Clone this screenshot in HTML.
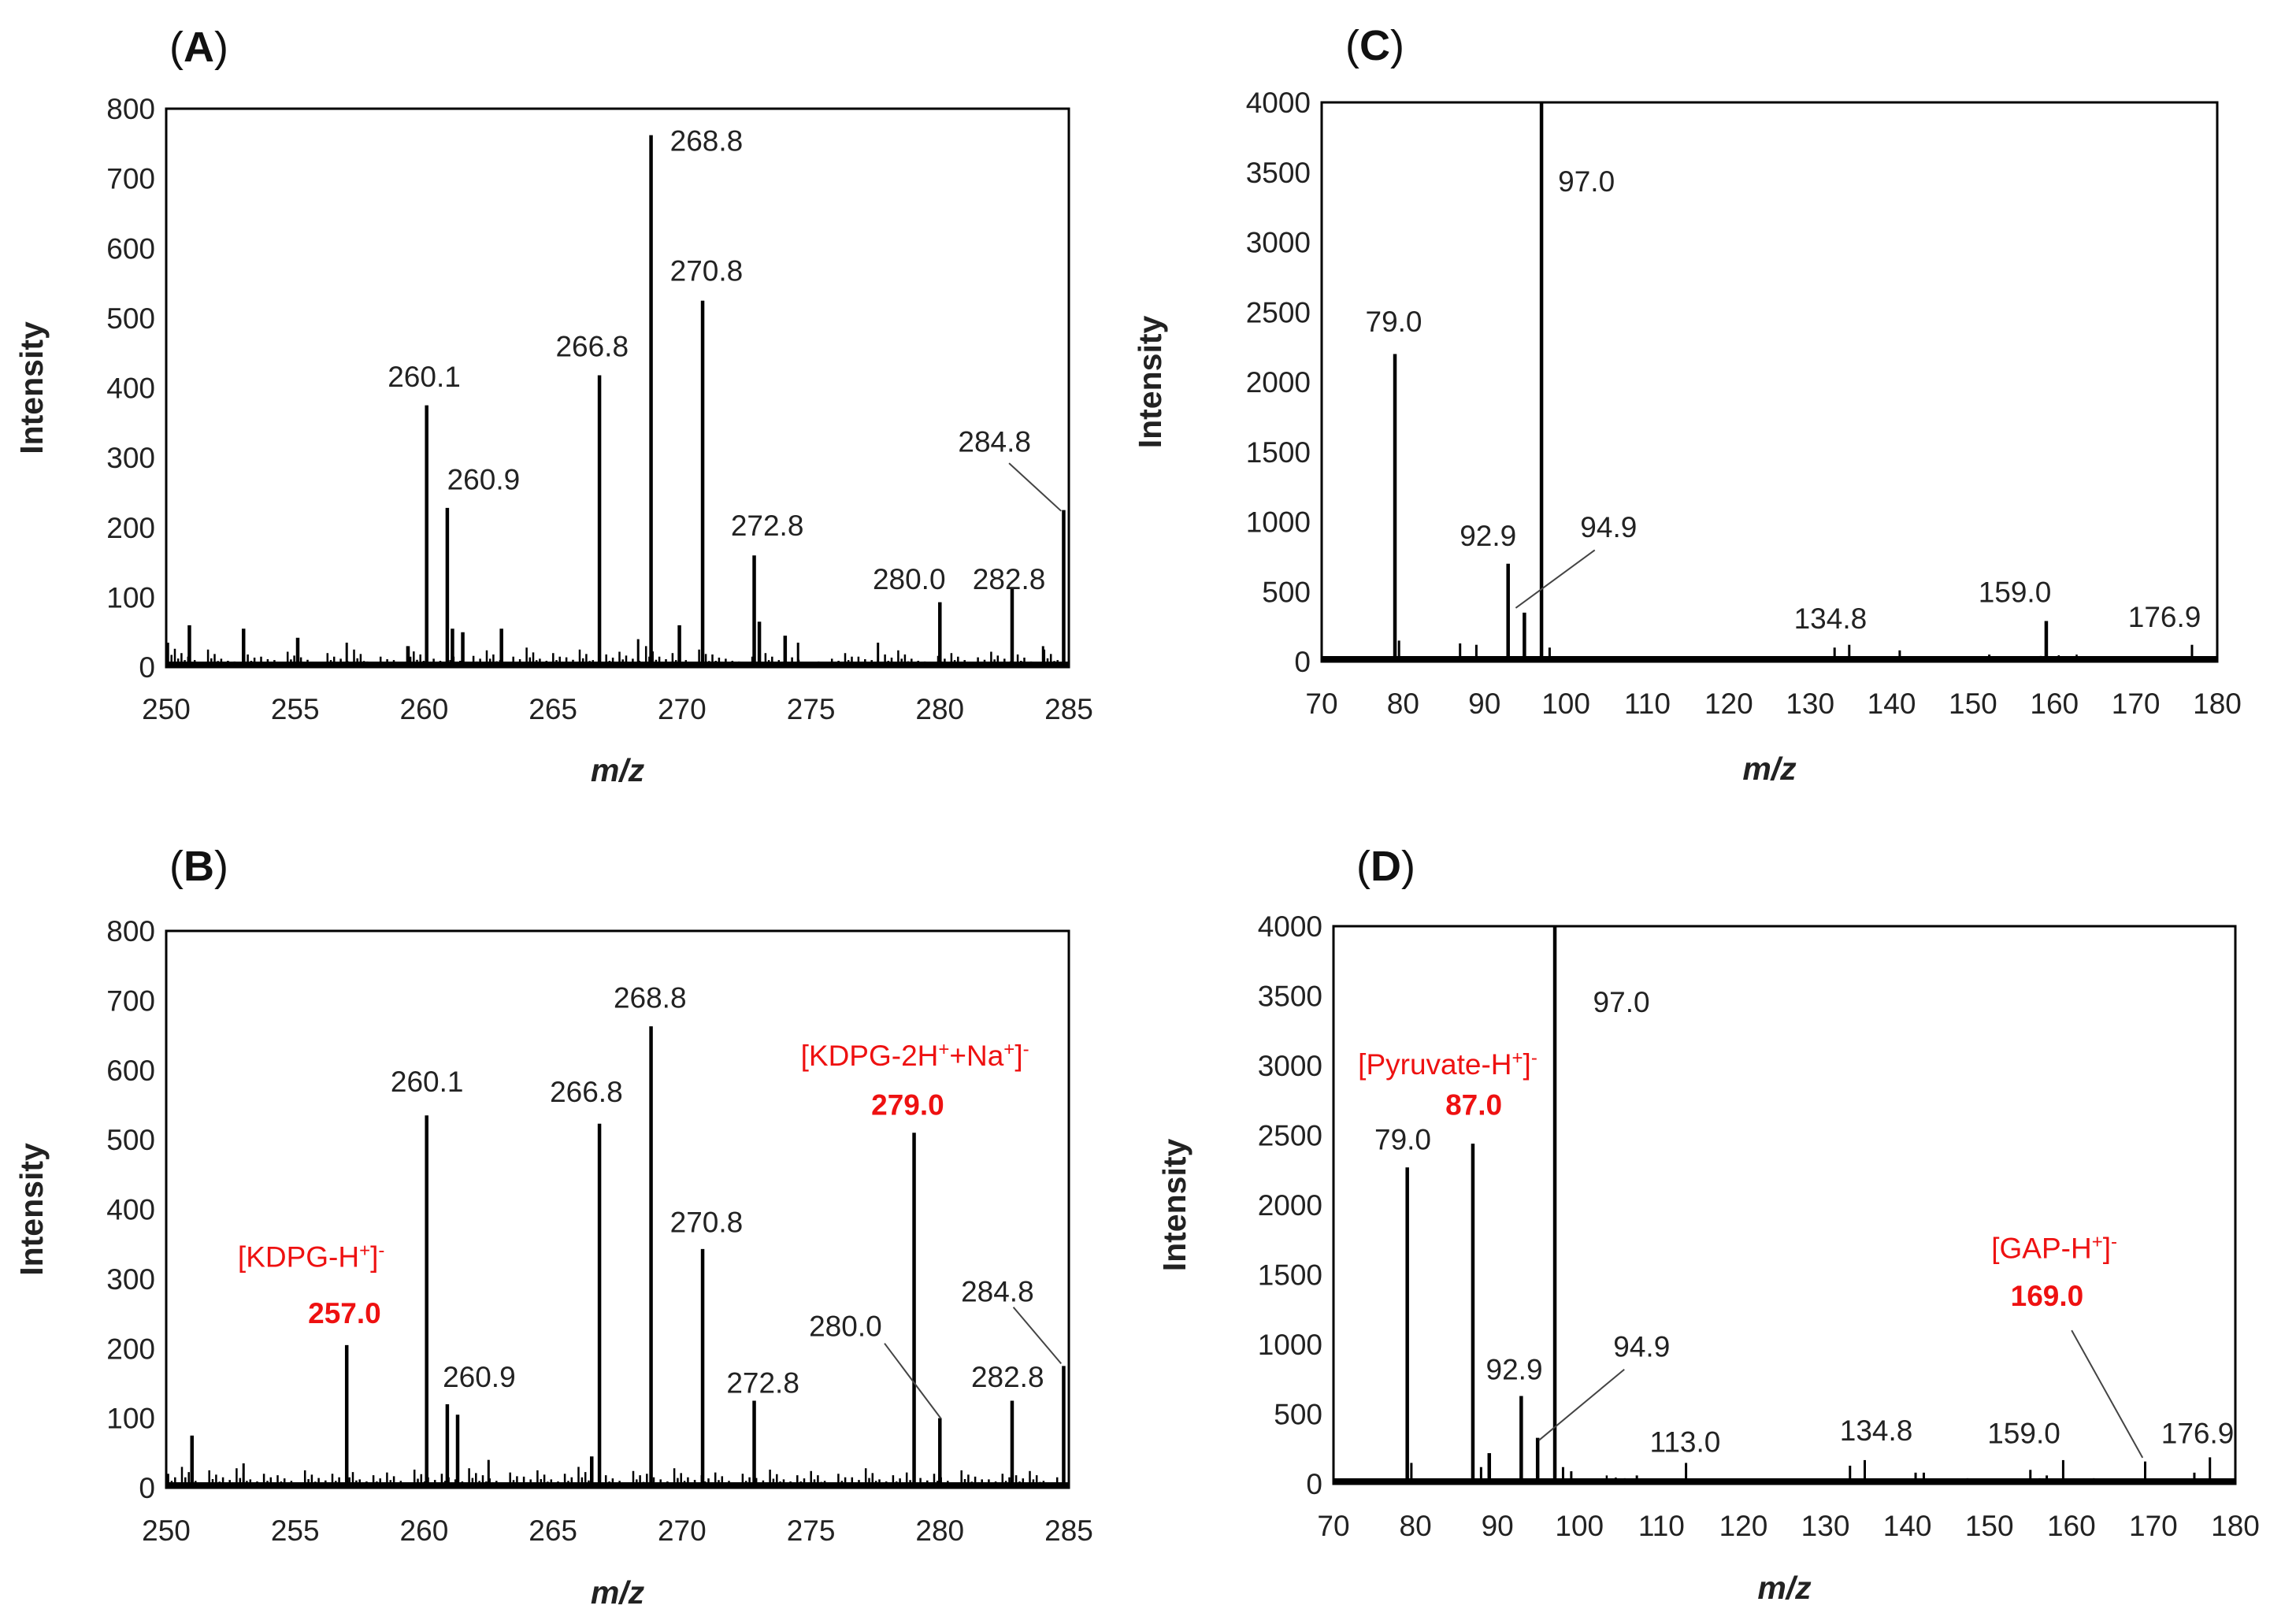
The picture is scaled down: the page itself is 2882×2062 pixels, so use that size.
<!DOCTYPE html>
<html><head><meta charset="utf-8">
<style>
html,body{margin:0;padding:0;background:#fff;}
svg{display:block;font-family:"Liberation Sans",Arial,sans-serif;}
</style></head>
<body>
<svg id="fig" width="2882" height="2062" viewBox="0 0 2882 2062" xmlns="http://www.w3.org/2000/svg"></svg>
<script>
// ---- Panel A data ----
const aPeaksX = [250.9,253.0,255.1,257.0,259.4,260.1,260.9,261.1,261.5,263.0,266.8,268.3,268.8,269.9,270.8,272.8,273.0,274.0,274.5,277.6,280.0,282.8,284.0,284.8];
const aPeaksY = [60,55,42,35,30,375,228,55,50,55,418,40,762,60,525,160,65,45,35,35,93,112,30,225];
const aNoise = [35,20,10,25,12,8,18,15,10,22,14,6,20,12,25,8,15,10,30,18,12,20,9,16,24,10,15,28,12,20,14,25,10,18,22,12,30,15,20,10,25,18,12,8,15,20,10,14,5,8,12,20,15,10,18,24,12,8,16,20,10,14,22,12,18,8,25,10];
const aLabels = ["260.1","260.9","266.8","268.8","270.8","272.8","280.0","282.8","284.8"];
// ---- Panel B data ----
const bPeaksX = [251.0,253.0,257.0,260.1,260.9,261.3,262.5,266.5,266.8,268.8,270.8,272.8,279.0,280.0,282.8,284.8];
const bPeaksY = [75,35,205,535,120,105,40,45,523,663,343,125,510,100,125,175];
const bNoise = [20,30,10,25,15,28,12,20,18,10,25,14,20,30,12,18,22,10,26,15,20,12,28,18,10,22,16,25,12,20,30,14,18,10,24,20,12,28,15,18,22,10,20,14,26,12,18,24,10,20,15,28,12,18,22,14,20,10,25,16,12,20,18,24,10,15];
// ---- Panel C data ----
const cPeaksX = [79.0,79.5,87.0,89.0,92.9,94.9,97.0,98.0,133.0,134.8,141.0,152.0,159.0,176.9];
const cPeaksY = [2200,150,130,120,700,350,4000,100,100,120,80,50,290,120];
const cNoise = [20,15,30,25,10,20,15,25,30,20,15,10,25,20,15,30,20,10,15,25,20,15,30,10,20,25,15,20,10,30,20,15,25,20,10,15,30,20,25,15,40,45,50,30,20,15,25,20,10,15];
// ---- Panel D data ----
const dPeaksX = [79.0,79.5,87.0,88.0,89.0,92.9,94.9,97.0,98.0,99.0,107.0,113.0,133.0,134.8,141.0,142.0,155.0,157.0,159.0,169.0,175.0,176.9];
const dPeaksY = [2270,150,2440,120,220,630,330,4000,120,90,60,150,130,170,80,80,100,60,170,160,80,190];
const dNoise = [25,20,30,15,20,25,30,20,15,25,20,30,25,15,20,60,40,25,20,15,25,30,20,15,25,20,30,25,20,15,25,30,20,25,30,40,35,30,25,40,30,35,40,30,25,35,30,20,25,30];

const NS="http://www.w3.org/2000/svg";
const svg=document.getElementById('fig');
const S=1.838;
function el(tag,attrs,parent){const e=document.createElementNS(NS,tag);for(const k in attrs)e.setAttribute(k,attrs[k]);(parent||svg).appendChild(e);return e;}

function panel(cfg){
  const g=el('g',{});
  
  
  const L=cfg.box[0],R=cfg.box[1],T=cfg.box[2],B=cfg.box[3];
  const xs=v=>L+(v-cfg.xmin)/(cfg.xmax-cfg.xmin)*(R-L);
  const ys=v=>B-(Math.min(v,cfg.ymax))/cfg.ymax*(B-T);
  const ax=cfg.ax||(x=>x*S);
  let d='';
  const n=cfg.noise.length;
  for(let i=0;i<n;i++){
    const sub=[0.15,0.4,0.65,0.9];
    for(let j=0;j<4;j++){
      const xx=cfg.xmin+(i+sub[j])/n*(cfg.xmax-cfg.xmin);
      const h=cfg.noise[i]*[1,0.5,0.75,0.35][j];
      d+='M'+xs(xx).toFixed(1)+' '+B+'V'+ys(h).toFixed(1);
    }
  }
  const nz=el('path',{d:d,stroke:'#000','stroke-width':2.5,fill:'none'},g);
  
  
  el('line',{x1:L,y1:B-4,x2:R,y2:B-4,stroke:'#000','stroke-width':6},g);
  for(let i=0;i<cfg.px.length;i++){
    const p=el('line',{x1:xs(cfg.px[i]),x2:xs(cfg.px[i]),y1:B,y2:ys(cfg.py[i]),stroke:'#000','stroke-width':cfg.py[i]>cfg.ymax*0.05?4.5:3},g);
    
    
  }
  const fr=el('rect',{x:L,y:T,width:R-L,height:B-T,fill:'none',stroke:'#000','stroke-width':3},g);
  
  
  for(const v of cfg.yticks){
    const t=el('text',{x:L-14,y:ys(v)+13,'text-anchor':'end','font-size':37,fill:'#222'},g);
    t.textContent=v;
    
    
  }
  for(const v of cfg.xticks){
    const t=el('text',{x:xs(v),y:cfg.xlabY,'text-anchor':'middle','font-size':37,fill:'#222'},g);
    t.textContent=v;
    
    
  }
  const yt=el('text',{x:0,y:0,'text-anchor':'middle','font-size':41,'font-weight':'bold',fill:'#222',transform:'translate('+(cfg.ytitleX)+','+((T+B)/2)+') rotate(-90)'},g);
  yt.textContent='Intensity';
  
  
  const xt=el('text',{x:(L+R)/2,y:cfg.xtitleY,'text-anchor':'middle','font-size':41,'font-weight':'bold','font-style':'italic',fill:'#222'},g);
  xt.textContent='m/z';
  
  
  const pl=el('text',{x:cfg.plab[0],y:cfg.plab[1],'font-size':54,fill:'#111'},g);
  pl.innerHTML='(<tspan font-weight="bold">'+cfg.letter+'</tspan>)';
  
  
  for(const a of cfg.ann){
    const t=el('text',{x:ax(a[1]),y:a[2]*S+13,'text-anchor':'middle','font-size':37,fill:a[3]?'#ee1111':'#222','font-weight':a[4]?'bold':'normal'},g);
    t.innerHTML=a[0];
    
    
  }
  for(const l of cfg.leaders){
    const ln=el('line',{x1:ax(l[0]),y1:l[1]*S,x2:ax(l[2]),y2:l[3]*S,stroke:'#444','stroke-width':2},g);
    
    
  }
}
const sup=s=>'<tspan baseline-shift="super" font-size="24">'+s+'</tspan>';

panel({name:'panel-a',letter:'A',box:[211,1357,138,847],xmin:250,xmax:285,ymax:800,
  px:aPeaksX,py:aPeaksY,noise:aNoise,yticks:[0,100,200,300,400,500,600,700,800],xticks:[250,255,260,265,270,275,280,285],
  xlabY:913,xtitleY:992,ytitleX:54,plab:[215,78],
  ann:[[aLabels[0],293,260],[aLabels[1],334,331],[aLabels[2],409,239],[aLabels[3],488,97],[aLabels[4],488,187],[aLabels[5],530,363],[aLabels[6],628,400],[aLabels[7],697,400],[aLabels[8],687,305]],
  leaders:[[697,320,733,353]]});

panel({name:'panel-b',letter:'B',box:[211,1357,1182,1889],xmin:250,xmax:285,ymax:800,
  px:bPeaksX,py:bPeaksY,noise:bNoise,yticks:[0,100,200,300,400,500,600,700,800],xticks:[250,255,260,265,270,275,280,285],
  xlabY:1956,xtitleY:2036,ytitleX:54,plab:[215,1118],
  ann:[['[KDPG-H'+sup('+')+']'+sup('-'),215,868,1,0],['257.0',238,907,1,1],['260.1',295,747],['260.9',331,951],['266.8',405,754],['268.8',449,689],['270.8',488,844],['272.8',527,955],['[KDPG-2H'+sup('+')+'+Na'+sup('+')+']'+sup('-'),632,729,1,0],['279.0',627,763,1,1],['280.0',584,916],['282.8',696,951],['284.8',689,892]],
  leaders:[[611,928,650,980],[700,903,733,942]]});

panel({name:'panel-c',letter:'C',box:[1678,2815,130,840],xmin:70,xmax:180,ymax:4000,
  px:cPeaksX,py:cPeaksY,noise:cNoise,yticks:[0,500,1000,1500,2000,2500,3000,3500,4000],xticks:[70,80,90,100,110,120,130,140,150,160,170,180],
  xlabY:906,xtitleY:990,ytitleX:1474,plab:[1708,76],
  ax:(x=>1678+(x-913)*1.76),
  ann:[['79.0',965,222],['92.9',1033,370],['94.9',1120,364],['97.0',1104,125],['134.8',1280,427],['159.0',1413,409],['176.9',1521,426]],
  leaders:[[1110,380,1053,420]]});

panel({name:'panel-d',letter:'D',box:[1693,2838,1176,1884],xmin:70,xmax:180,ymax:4000,
  px:dPeaksX,py:dPeaksY,noise:dNoise,yticks:[0,500,1000,1500,2000,2500,3000,3500,4000],xticks:[70,80,90,100,110,120,130,140,150,160,170,180],
  xlabY:1950,xtitleY:2030,ytitleX:1505,plab:[1722,1118],
  ann:[['79.0',969,787],['[Pyruvate-H'+sup('+')+']'+sup('-'),1000,735,1,0],['87.0',1018,763,1,1],['92.9',1046,946],['94.9',1134,930],['97.0',1120,692],['113.0',1164,996],['134.8',1296,988],['159.0',1398,990],['[GAP-H'+sup('+')+']'+sup('-'),1419,862,1,0],['169.0',1414,895,1,1],['176.9',1518,990]],
  leaders:[[1122,946,1063,995],[1431,919,1480,1007]]});
</script>
</body></html>
